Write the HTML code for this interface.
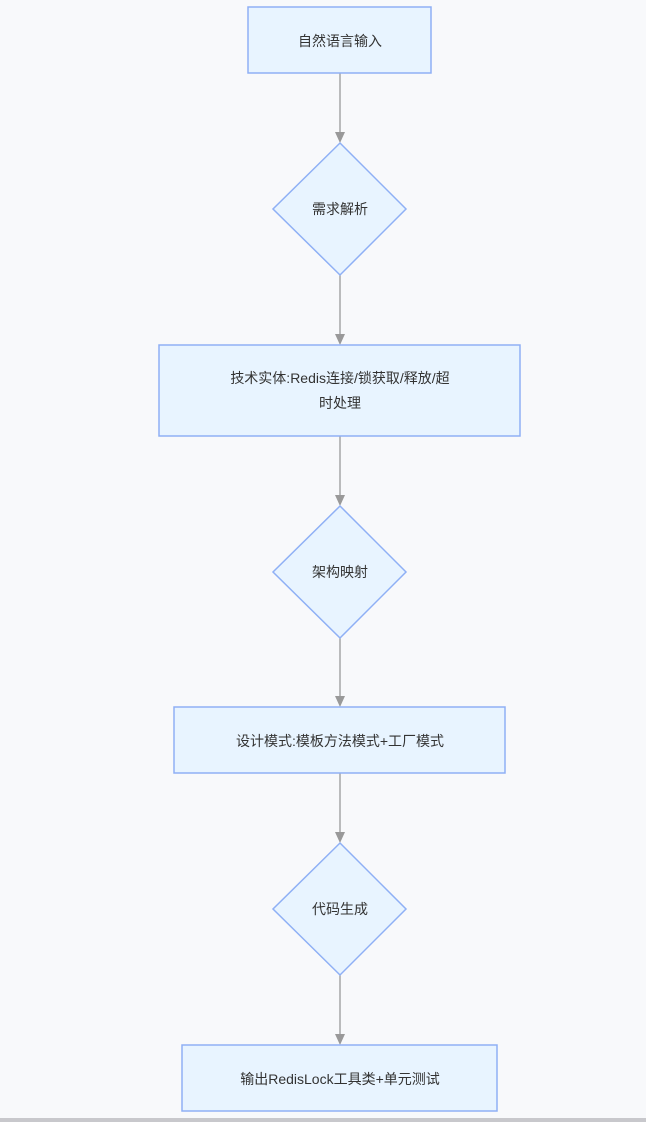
<!DOCTYPE html>
<html><head><meta charset="utf-8"><style>
html,body{margin:0;padding:0;background:#f8f9fb;}
svg{display:block}
text{font-family:"Liberation Sans","Noto Sans CJK SC",sans-serif;font-size:14px;fill:#333;text-anchor:middle;dominant-baseline:central}
</style></head><body>
<svg width="646" height="1122" viewBox="0 0 646 1122">
<rect x="0" y="0" width="646" height="1122" fill="#f8f9fb"/>
<rect x="0" y="1118" width="646" height="4" fill="#c8c8cc"/>
<g stroke="#999" stroke-width="1.3" fill="none">
<line x1="340" y1="73" x2="340" y2="133"/>
<line x1="340" y1="275" x2="340" y2="335"/>
<line x1="340" y1="436" x2="340" y2="496"/>
<line x1="340" y1="638" x2="340" y2="697"/>
<line x1="340" y1="773" x2="340" y2="833"/>
<line x1="340" y1="975" x2="340" y2="1035"/>
</g>
<g fill="#999">
<polygon points="335,132 345,132 340,143"/>
<polygon points="335,334 345,334 340,345"/>
<polygon points="335,495 345,495 340,506"/>
<polygon points="335,696 345,696 340,707"/>
<polygon points="335,832 345,832 340,843"/>
<polygon points="335,1034 345,1034 340,1045"/>
</g>
<g fill="#e8f4ff" stroke="#8fb0f5" stroke-width="1.5">
<rect x="248" y="7" width="183" height="66"/>
<polygon points="340,143 406,209 340,275 273,209"/>
<rect x="159" y="345" width="361" height="91"/>
<polygon points="340,506 406,572 340,638 273,572"/>
<rect x="174" y="707" width="331" height="66"/>
<polygon points="340,843 406,909 340,975 273,909"/>
<rect x="182" y="1045" width="315" height="66"/>
</g>
<text x="340" y="41">自然语言输入</text>
<text x="340" y="209">需求解析</text>
<text x="340" y="378">技术实体:Redis连接/锁获取/释放/超</text>
<text x="340" y="403">时处理</text>
<text x="340" y="572">架构映射</text>
<text x="340" y="741">设计模式:模板方法模式+工厂模式</text>
<text x="340" y="909">代码生成</text>
<text x="340" y="1079">输出RedisLock工具类+单元测试</text>
</svg>
</body></html>
